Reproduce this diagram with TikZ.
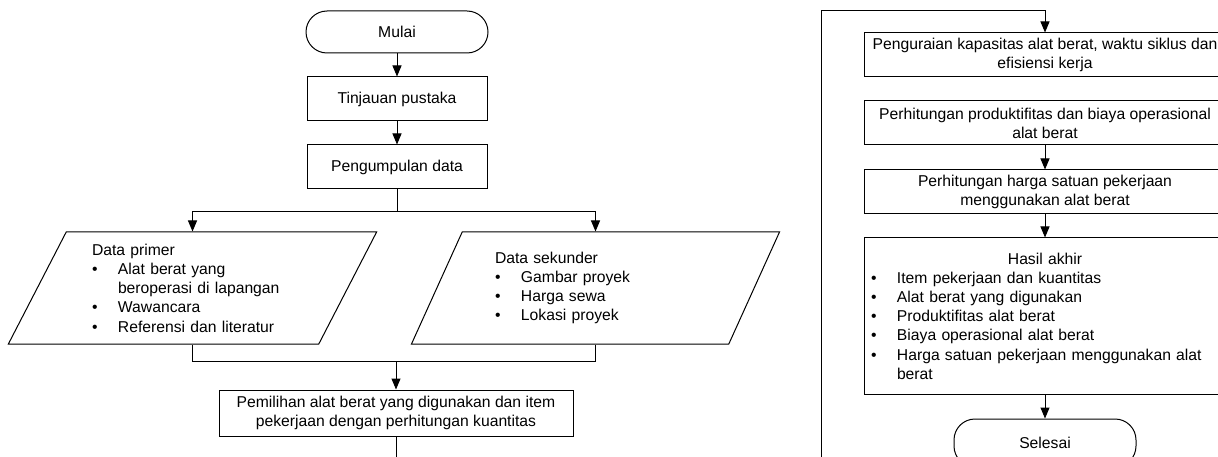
\documentclass[tikz,border=0pt]{standalone}
\usepackage{fontspec}
\setmainfont{Liberation Sans}
\usepackage{tikz}
\usetikzlibrary{%
  positioning
 ,arrows.meta
 ,shapes.geometric
}
\tikzstyle{alir}=[x=1pt,y=-1pt,line width=1pt,>={Triangle[length=11pt,width=9pt]},font=\fontsize{15.7pt}{19.2pt}\selectfont]
\tikzstyle{proses}=[draw,rectangle,align=center,minimum width=362pt,minimum height=44pt,inner sep=2pt]
\tikzstyle{terminal}=[draw,rectangle,rounded corners=21pt,minimum width=182pt,minimum height=42pt]
\tikzstyle{data}=[draw,trapezium,trapezium left angle=63.4,trapezium right angle=116.6,trapezium stretches=true,minimum width=369pt,minimum height=112pt,text width=201pt,align=left]
\newcommand{\butir}[1]{\makebox[26pt][l]{\textbullet}#1}

\begin{document}
\begin{tikzpicture}[alir]
  \clip (0,0) rectangle (1218,457);
  % kolom kiri
  \node[terminal]                          (mulai)    at (397,32)  {Mulai};
  \node[proses,minimum width=180pt]        (tinjauan) [below=23pt of mulai]    {Tinjauan pustaka};
  \node[proses,minimum width=180pt]        (kumpul)   [below=23pt of tinjauan] {Pengumpulan data};
  \coordinate (cabang) at (397,212);
  \node[data] (primer) at (192.5,288)
    {Data primer\\
     \butir{Alat berat yang}\\
     \hspace*{26pt}beroperasi di lapangan\\
     \butir{Wawancara}\\
     \butir{Referensi dan literatur}};
  \node[data] (sekunder) at (595.5,288)
    {Data sekunder\\
     \butir{Gambar proyek}\\
     \butir{Harga sewa}\\
     \butir{Lokasi proyek}};
  \coordinate (gabung) at (396,361);
  \node[proses,minimum width=354pt,minimum height=46pt] (pilih) at (396,413)
    {Pemilihan alat berat yang digunakan dan item\\pekerjaan dengan perhitungan kuantitas};
  \coordinate (lompat) at (821,475);
  \coordinate (atas)   at (821,11);
  % kolom kanan
  \node[proses] (urai)      at (1045,55) {Penguraian kapasitas alat berat, waktu siklus dan\\efisiensi kerja};
  \node[proses] (produktif) [below=23pt of urai]      {Perhitungan produktifitas dan biaya operasional\\alat berat};
  \node[proses] (hsp)       [below=24pt of produktif] {Perhitungan harga satuan pekerjaan\\menggunakan alat berat};
  \node[proses,minimum height=156pt,text width=348pt,inner xsep=7pt,align=left] (hasil) [below=23pt of hsp]
    {\hfill Hasil akhir\hfill\null\\
     \butir{Item pekerjaan dan kuantitas}\\
     \butir{Alat berat yang digunakan}\\
     \butir{Produktifitas alat berat}\\
     \butir{Biaya operasional alat berat}\\
     \butir{Harga satuan pekerjaan menggunakan alat}\\
     \hspace*{26pt}berat};
  \node[terminal,minimum height=48pt] (selesai) [below=24pt of hasil] {Selesai};
%
  \path[->]
  (mulai)     edge (tinjauan)
  (tinjauan)  edge (kumpul)
  (produktif) edge (hsp)
  (hsp)       edge (hasil)
  (hasil)     edge (selesai);
  \draw (kumpul) -- (cabang);
  \draw[->] (cabang) -| (primer.north);
  \draw[->] (cabang) -| (sekunder.north);
  \draw (primer.south) |- (gabung);
  \draw (sekunder.south) |- (gabung);
  \draw[->] (gabung) -- (pilih);
  \draw[->] (pilih.south) |- (lompat) -- (atas) -| (urai.north);
\end{tikzpicture}
\end{document}
